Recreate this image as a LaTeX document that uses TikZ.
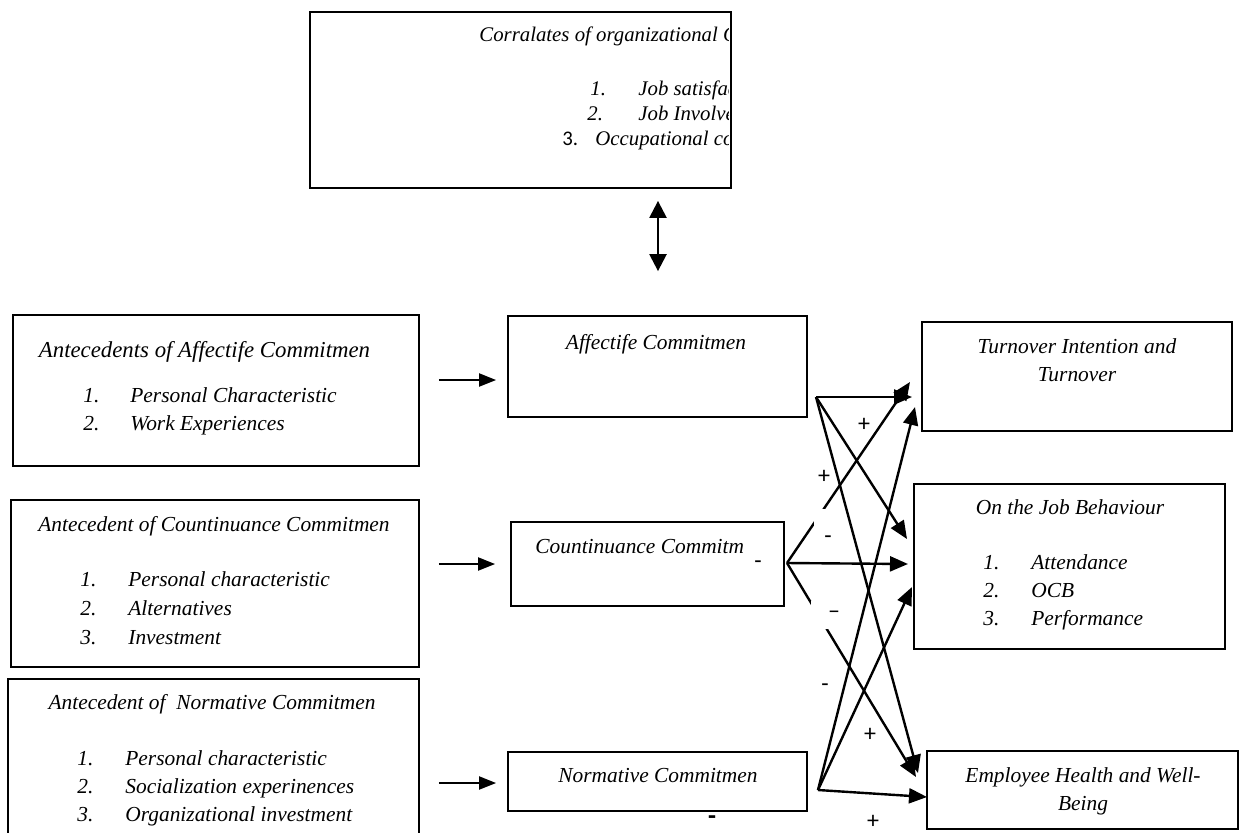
\documentclass[tikz,border=0pt]{standalone}
\usepackage{fontspec}
\setmainfont{Liberation Serif}
\newfontfamily\carlito{Carlito}
\usetikzlibrary{arrows.meta}
\tikzset{
  cmtarr/.style={-{Triangle[length=9pt,width=7.5pt]}, line width=1.2pt},
  antarr/.style={-{Triangle[length=8.5pt,width=6.5pt]}, line width=1pt},
  cmtdbl/.style={{Triangle[length=8.5pt,width=8.5pt]}-{Triangle[length=8.5pt,width=8.5pt]}, line width=1.2pt},
  cmtbox/.style={draw, line width=0.9pt, fill=white, inner sep=0pt},
  cmttxt/.style={inner sep=0pt, font=\fontsize{10.7}{13}\selectfont\itshape},
  cmtsgn/.style={inner sep=0pt, font=\carlito\fontsize{12}{14}\selectfont},
}
\begin{document}
\begin{tikzpicture}[
  x=0.5pt, y=-0.5pt,
  lbl/.style={cmttxt, anchor=base},
  itm/.style={cmttxt, anchor=base west},
  cortxt/.style={font=\fontsize{10.4}{13}\selectfont\itshape},
]
  \path[use as bounding box, fill=white] (0,0) rectangle (1243,832);

  % boxes
  \node[cmtbox, minimum width=210.5pt, minimum height=88pt] (cor) at (520.5,100) {};
  \node[cmtbox, minimum width=203pt, minimum height=75.5pt] (aa) at (216,390.5) {};
  \node[cmtbox, minimum width=149.5pt, minimum height=50.5pt] (aff) at (657.5,366.5) {};
  \node[cmtbox, minimum width=155pt, minimum height=54.5pt] (turn) at (1077,376.5) {};
  \node[cmtbox, minimum width=204pt, minimum height=83.5pt] (ac) at (215,583.5) {};
  \node[cmtbox, minimum width=136.5pt, minimum height=42pt] (con) at (647.5,564) {};
  \node[cmtbox, minimum width=155.5pt, minimum height=82.5pt] (job) at (1069.5,566.5) {};
  \node[cmtbox, minimum width=205.5pt, minimum height=85pt] (an) at (213.5,764) {};
  \node[cmtbox, minimum width=149.5pt, minimum height=29.5pt] (norm) at (657.5,781.5) {};
  \node[cmtbox, minimum width=155.5pt, minimum height=39pt] (emp) at (1082.5,790) {};

  % correlates (text runs past the box edge and is cut there)
  \begin{scope}
    \clip (cor.north west) rectangle (728,188);
    \node[itm, cortxt] (cort) at (479,41) {Corralates of organizational Commitmen};
    \node[itm, cortxt] (cor1) at (590,95) {\makebox[24pt][l]{1.}Job satisfaction};
    \node[itm, cortxt] (cor2) at (587,120) {\makebox[25.5pt][l]{2.}Job Involvement};
    \node[itm, cortxt] (cor3) at (562,145) {\makebox[16.5pt][l]{\carlito\upshape 3.}Occupational commitmen};
  \end{scope}

  % antecedents
  \node[lbl, font=\fontsize{11.4}{13}\selectfont\itshape] (aat) at (204.5,357) {Antecedents of Affectife Commitmen};
  \foreach \t [count=\k] in {Personal Characteristic, Work Experiences}
    \node[itm] (aa\k) at (83,{374+28*\k}) {\makebox[23.5pt][l]{\k.}\t};
  \node[lbl] (act) at (214,531) {Antecedent of Countinuance Commitmen};
  \foreach \t [count=\k] in {Personal characteristic, Alternatives, Investment}
    \node[itm] (ac\k) at (80,{557+29*\k}) {\makebox[24pt][l]{\k.}\t};
  \node[lbl] (ant) at (212,709) {Antecedent of~ Normative Commitmen};
  \foreach \t [count=\k] in {Personal characteristic, Socialization experinences, Organizational investment}
    \node[itm] (an\k) at (77,{737+28*\k}) {\makebox[24pt][l]{\k.}\t};

  % commitment types
  \node[lbl] (afft) at (656,349) {Affectife Commitmen};
  \begin{scope}
    \clip (con.north west) rectangle (743,606);
    \node[itm] (cont) at (535,553) {Countinuance Commitm};
  \end{scope}
  \node[lbl] (normt) at (658,782) {Normative Commitmen};

  % outcomes
  \node[lbl] (turn1) at (1077,353) {Turnover Intention and};
  \node[lbl] (turn2) at (1077,381) {Turnover};
  \node[lbl] (jobt) at (1070,514) {On the Job Behaviour};
  \foreach \t [count=\k] in {Attendance, OCB, Performance}
    \node[itm] (job\k) at (983,{541+28*\k}) {\makebox[24pt][l]{\k.}\t};
  \node[lbl] (emp1) at (1083,782) {Employee Health and Well-};
  \node[lbl] (emp2) at (1083,810) {Being};

  % arrows
  \draw[cmtdbl, shorten <=6pt, shorten >=22pt] (cor.south -| 658,0) -- (aff.north -| 658,0);
  \foreach \a/\b/\y/\s in {aa/aff/380/5.5, ac/con/564/7.5, an/norm/783/5.5}
    \draw[antarr, shorten <=9.5pt, shorten >=\s pt] (\a.east |- 0,\y) -- (\b.west |- 0,\y);

  \coordinate (ao) at (816,397);
  \coordinate (co) at (787,563);
  \coordinate (no) at (818,790);
  \coordinate (ta) at (912,397);
  \coordinate (tc) at (910,382);
  \coordinate (tn) at (915,407);
  \coordinate (ja) at (907,539);
  \coordinate (jc) at (908,564);
  \coordinate (jn) at (912,587);
  \coordinate (ea) at (918,773);
  \coordinate (ec) at (916,777);
  \coordinate (en) at (927,797);
  \foreach \a/\b in {ao/ta, ao/ja, ao/ea, co/tc, co/jc, co/ec, no/tn, no/jn, no/en}
    \draw[cmtarr] (\a) -- (\b);

  % signs
  \node[cmtsgn] (p1) at (864,425) {+};
  \node[cmtsgn] (p2) at (824,477) {+};
  \node[cmtsgn, fill=white, minimum width=14pt, text height=17pt, anchor=base] (m1) at (828,543) {-};
  \node[cmtsgn] (m2) at (758,565) {-};
  \node[cmtsgn, fill=white, minimum width=23pt, minimum height=14pt] (m3) at (834,615) {–};
  \node[cmtsgn] (m4) at (825,688) {-};
  \node[cmtsgn] (p3) at (870,735) {+};
  \node[cmtsgn] (p4) at (873,822) {+};
  \node[cmtsgn, font=\carlito\bfseries\fontsize{13}{15}\selectfont] (m5) at (712,820) {-};
\end{tikzpicture}
\end{document}
